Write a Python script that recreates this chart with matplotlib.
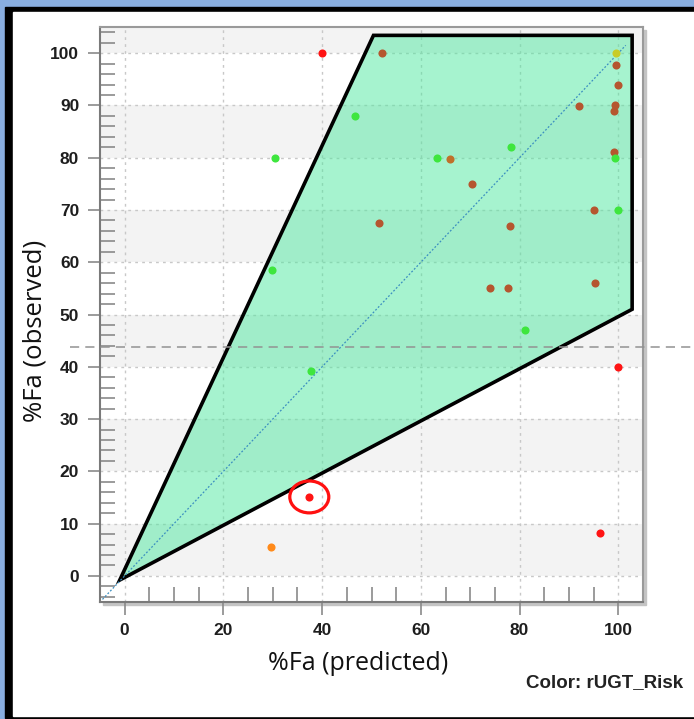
import matplotlib
matplotlib.use("Agg")
import matplotlib.pyplot as plt
from matplotlib.patches import Rectangle, Ellipse, Polygon
from matplotlib.ticker import MultipleLocator

# point groups (x = %Fa predicted, y = %Fa observed)
brown_x = [52.2, 99.5, 99.9, 92.1, 99.3, 99.2, 99.2, 70.4, 51.5, 78.1, 95.1, 74.1, 77.7, 95.2]
brown_y = [100.0, 97.8, 93.9, 89.9, 90.0, 89.0, 81.0, 75.0, 67.5, 67.0, 69.9, 55.0, 55.0, 56.0]
rust_x = [66.0]
rust_y = [79.7]
green_x = [46.6, 78.3, 63.2, 99.3, 99.9, 81.1, 30.4, 29.8, 37.7]
green_y = [88.0, 82.0, 80.0, 79.9, 69.9, 47.0, 80.0, 58.5, 39.1]
red_x = [39.9, 37.4, 99.9, 96.2]
red_y = [100.0, 15.1, 40.0, 8.2]
orange_x = [29.6]
orange_y = [5.5]
yellow_x = [99.6]
yellow_y = [100.0]

# acceptance region and reference lines
region_x = [-1.0, 50.4, 102.8, 102.8]
region_y = [-0.8, 103.4, 103.4, 51.0]
diag = [-4.5, 101.5]
cutoff_y = 43.7
flagged = (37.4, 15.1)

xticks = [0, 20, 40, 60, 80, 100]
yticks = [0, 10, 20, 30, 40, 50, 60, 70, 80, 90, 100]

W, H = 694, 719
fig = plt.figure(figsize=(W / 100, H / 100), dpi=100, facecolor="#89aee0")


def px(x0, y0, x1, y1):
    # pixel box (top-left origin) -> figure fraction rect
    return (x0 / W, 1 - y1 / H), (x1 - x0) / W, (y1 - y0) / H


xy, w, h = px(5, 7, 694, 718)
fig.add_artist(Rectangle(xy, w, h, transform=fig.transFigure, color="black", zorder=-10))
xy, w, h = px(13, 12, 694, 716)
fig.add_artist(Rectangle(xy, w, h, transform=fig.transFigure, color="white", zorder=-9))
# drop shadow of the plot frame
xy, w, h = px(103, 30, 646, 605)
fig.add_artist(Rectangle(xy, w, h, transform=fig.transFigure, color="#c4c4c4", zorder=-8))

ax = fig.add_axes([100 / W, 1 - 602 / H, 543 / W, 575 / H])
ax.set_facecolor("white")
ax.set_xlim(-5, 105)
ax.set_ylim(-5, 105)

# alternating horizontal bands (grey on 0-10, 20-30, ... and above 100)
for yb in yticks:
    if yb % 20 == 0:
        ax.axhspan(yb, min(yb + 10, 105), color="#f3f3f3", lw=0, zorder=0)

ax.set_axisbelow(True)
ax.grid(True, which="major", color="#c8c8c8", linestyle=(0, (2, 3)), lw=1)

ax.add_patch(Polygon(list(zip(region_x, region_y)), closed=True, facecolor="#4fe8a0",
                     alpha=0.5, edgecolor="none", zorder=2))
ax.add_patch(Polygon(list(zip(region_x, region_y)), closed=True, facecolor="none",
                     edgecolor="black", lw=2.6, joinstyle="miter", zorder=3))
ax.plot(diag, diag, color="#3b8fc0", lw=0.9, linestyle=(0, (1.5, 1.5)), zorder=3)
ax.plot([-11, 123], [cutoff_y, cutoff_y], color="#929292", lw=1.1,
        linestyle=(0, (6, 4)), clip_on=False, zorder=3)

s = 34
ax.scatter(brown_x, brown_y, s=s, color="#b5562f", lw=0, zorder=5)
ax.scatter(rust_x, rust_y, s=s, color="#c0702a", lw=0, zorder=5)
ax.scatter(green_x, green_y, s=s, color="#3ee63e", lw=0, zorder=5)
ax.scatter(red_x, red_y, s=s, color="#ff1414", lw=0, zorder=5)
ax.scatter(orange_x, orange_y, s=s, color="#ff8a1a", lw=0, zorder=5)
ax.scatter(yellow_x, yellow_y, s=s, color="#c8cc28", lw=0, zorder=5)
ax.add_patch(Ellipse(flagged, 7.9, 6.1, facecolor="none", edgecolor="#ff1010", lw=2.3, zorder=6))

ax.set_xticks(xticks)
ax.set_yticks(yticks)
ax.xaxis.set_minor_locator(MultipleLocator(5))
ax.yaxis.set_minor_locator(MultipleLocator(2))
ax.tick_params(which="major", direction="out", length=9, width=1.2, color="#8a8a8a",
               pad=6, labelsize=12.5, labelcolor="#1e1e1e")
ax.tick_params(which="minor", direction="in", length=11, width=1.2, color="#8a8a8a")
for lab in ax.get_xticklabels() + ax.get_yticklabels():
    lab.set_fontfamily("Liberation Sans")
    lab.set_fontweight("bold")
for sp in ["top", "right"]:
    ax.spines[sp].set_color("#9a9a9a")
    ax.spines[sp].set_linewidth(1.5)
for sp in ["left", "bottom"]:
    ax.spines[sp].set_color("#7a7a7a")
    ax.spines[sp].set_linewidth(1.5)

fig.text(358 / W, 1 - 664 / H, "%Fa (predicted)", family="Open Sans", fontsize=18,
         ha="center", va="center", color="#111111")
fig.text(35 / W, 1 - 331 / H, "%Fa (observed)", family="Open Sans", fontsize=18.5,
         ha="center", va="center", rotation=90, color="#111111")
fig.text(683 / W, 1 - 683 / H, "Color: rUGT_Risk", family="Liberation Sans",
         fontweight="bold", fontsize=13.5, ha="right", va="center", color="#222222")

fig.savefig("out.png", dpi=100, facecolor=fig.get_facecolor())
